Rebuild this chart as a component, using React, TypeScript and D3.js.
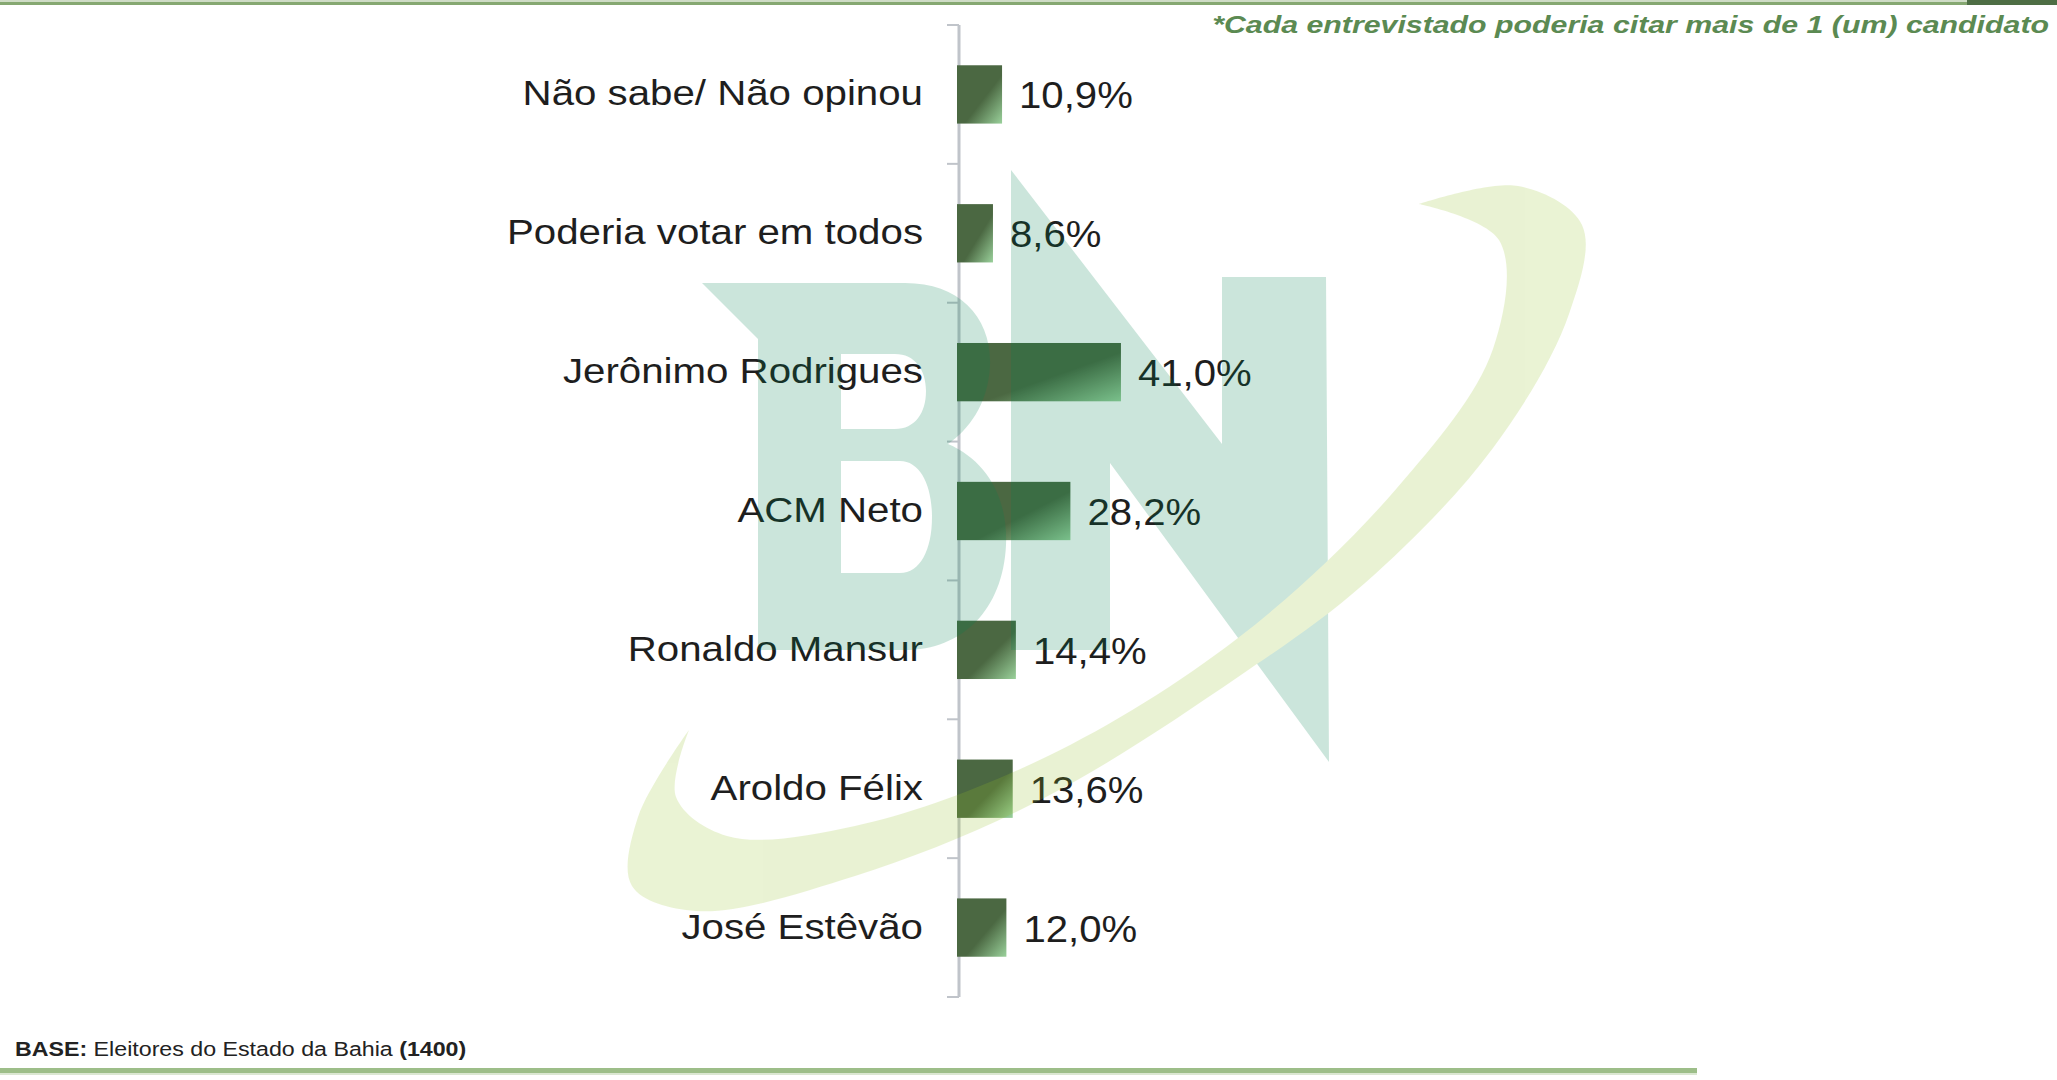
import React from "react";
import * as d3 from "d3";

// chart data
const categories = [
  "Não sabe/ Não opinou",
  "Poderia votar em todos",
  "Jerônimo Rodrigues",
  "ACM Neto",
  "Ronaldo Mansur",
  "Aroldo Félix",
  "José Estêvão",
];
const values = [10.9, 8.6, 41.0, 28.2, 14.4, 13.6, 12.0];

const NOTE = "*Cada entrevistado poderia citar mais de 1 (um) candidato";
const BASE_LABEL = "BASE:";
const BASE_TEXT = " Eleitores do Estado da Bahia ";
const BASE_N = "(1400)";

const W = 2057;
const H = 1080;
const FONT = "'Liberation Sans', Arial, Helvetica, sans-serif";

const ptBR = d3.formatLocale({
  decimal: ",",
  thousands: ".",
  grouping: [3],
  currency: ["R$", ""],
});
const fmt = ptBR.format(".1f");

// watermark outlines (decoration only, not data)
const nShape: [number, number][] = [
  [1011, 170], [1222, 444], [1222, 277], [1326, 277],
  [1329, 762], [1110, 463], [1110, 650], [1011, 650],
];
const swooshOuter: [number, number][] = [
  [1419, 204], [1518, 186], [1582, 225], [1569, 314], [1493, 448],
  [1365, 583], [1238, 677], [1046, 797], [855, 876], [696, 911],
  [632, 886], [638, 817], [689, 730],
];
const swooshInner: [number, number][] = [
  [689, 730], [676, 797], [727, 836], [855, 826], [1046, 757],
  [1238, 638], [1397, 488], [1493, 349], [1499, 240], [1419, 204],
];

const bPath =
  "M702,283 L905,283 C960,283 992,318 990,366 C988,405 968,430 948,444 " +
  "C985,460 1008,495 1006,545 C1003,610 962,650 905,650 L758,650 L758,339 Z " +
  "M841,354 L895,354 C915,354 926,370 926,391 C926,413 915,429 895,429 L841,429 Z " +
  "M841,461 L900,461 C920,461 932,485 932,517 C932,550 920,573 900,573 L841,573 Z";

export default function App() {
  const x = d3.scaleLinear().domain([0, 45]).range([959, 959 + 177.75]);
  const y = d3
    .scaleBand<string>()
    .domain(categories)
    .range([25, 997])
    .paddingInner(0.58)
    .paddingOuter(0.29);

  const axisX = x(0);
  const [y0, y1] = y.range();
  const ticks = d3.range(categories.length + 1).map((i) => y0 + i * y.step());

  const curve = d3.line().curve(d3.curveCatmullRom.alpha(0.5));
  const swoosh =
    (curve(swooshOuter) ?? "") + "L" + (curve(swooshInner) ?? "").slice(1) + "Z";
  const nPath = (d3.line()(nShape) ?? "") + "Z";

  return (
    <svg
      width={W}
      height={H}
      style={{ position: "absolute", left: 0, top: 0, background: "white" }}
      fontFamily={FONT}
    >
      <defs>
        <linearGradient id="barFill" x1="0" y1="0" x2="1" y2="1">
          <stop offset="0" stopColor="#4b6842" />
          <stop offset="0.58" stopColor="#4b6842" />
          <stop offset="1" stopColor="#9ad19b" />
        </linearGradient>
      </defs>
      <rect width={W} height={H} fill="white" />

      {/* top rule */}
      <rect x={0} y={0} width={1967} height={2} fill="#cfdcc6" />
      <rect x={0} y={2} width={1967} height={3} fill="#86a872" />
      <rect x={1967} y={0} width={W - 1967} height={5} fill="#4e6e45" />

      {/* note */}
      <text
        transform={`translate(2049,33) scale(1.29,1)`}
        textAnchor="end"
        fontSize={23.5}
        fontWeight="bold"
        fontStyle="italic"
        fill="#5b8a52"
      >
        {NOTE}
      </text>

      {/* axis */}
      <line x1={axisX} x2={axisX} y1={y0} y2={y1} stroke="#c0c4ca" strokeWidth={3} />
      {ticks.map((t, i) => (
        <line key={i} x1={axisX - 12} x2={axisX} y1={t} y2={t} stroke="#c0c4ca" strokeWidth={2} />
      ))}

      {/* bars */}
      {categories.map((c, i) => {
        const by = y(c) ?? 0;
        const bw = y.bandwidth();
        const cy = by + bw / 2;
        return (
          <g key={c}>
            <rect
              x={axisX - 2}
              y={by}
              width={x(values[i]) - axisX + 2}
              height={bw}
              fill="url(#barFill)"
            />
            <text
              transform={`translate(923,${cy + 11}) scale(1.15,1)`}
              textAnchor="end"
              fontSize={35}
              fill="#1e1e1e"
            >
              {c}
            </text>
            <text
              transform={`translate(${x(values[i]) + 17},${cy + 14}) scale(1.07,1)`}
              fontSize={37.5}
              fill="#1e1e1e"
            >
              {fmt(values[i])}%
            </text>
          </g>
        );
      })}

      {/* base */}
      <text transform="translate(15,1056) scale(1.19,1)" fontSize={19.5} fill="#222">
        <tspan fontWeight="bold">{BASE_LABEL}</tspan>
        <tspan>{BASE_TEXT}</tspan>
        <tspan fontWeight="bold">{BASE_N}</tspan>
      </text>
      <rect x={0} y={1068} width={1697} height={5} fill="#9dbe89" />
      <rect x={0} y={1073} width={1697} height={2} fill="#dbe7d2" />

      {/* watermark */}
      <g opacity={0.2}>
        <path d={bPath} fill="rgb(0,130,80)" fillRule="evenodd" />
        <path d={nPath} fill="rgb(0,130,80)" />
        <path d={swoosh} fill="rgb(150,195,40)" />
      </g>
    </svg>
  );
}
